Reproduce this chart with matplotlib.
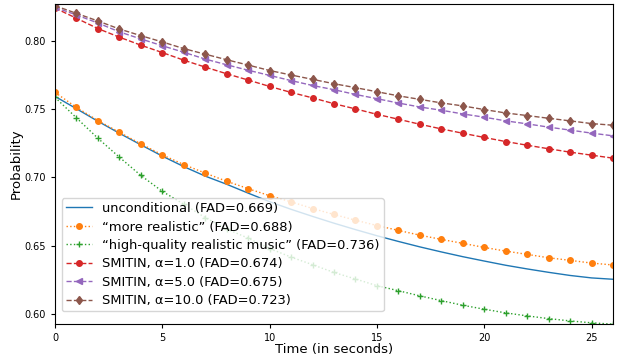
import matplotlib
matplotlib.use("Agg")
import matplotlib.pyplot as plt

t = list(range(27))

unconditional = [0.7596, 0.7505, 0.7413, 0.7325, 0.7240, 0.7157, 0.7080, 0.7010, 0.6950,
                 0.6885, 0.6822, 0.6766, 0.6714, 0.6664, 0.6617, 0.6572, 0.6530, 0.6490,
                 0.6453, 0.6418, 0.6386, 0.6355, 0.6328, 0.6303, 0.6280, 0.6262, 0.6252]
more_realistic = [0.7625, 0.7515, 0.7418, 0.7332, 0.7247, 0.7166, 0.7095, 0.7032, 0.6972,
                  0.6918, 0.6866, 0.6821, 0.6772, 0.6728, 0.6686, 0.6647, 0.6611, 0.6576,
                  0.6545, 0.6516, 0.6486, 0.6459, 0.6435, 0.6410, 0.6391, 0.6371, 0.6357]
hq_realistic = [0.7589, 0.7438, 0.7288, 0.7149, 0.7015, 0.6898, 0.6804, 0.6705, 0.6622,
                0.6554, 0.6478, 0.6415, 0.6359, 0.6302, 0.6254, 0.6205, 0.6168, 0.6130,
                0.6095, 0.6061, 0.6032, 0.6005, 0.5983, 0.5963, 0.5946, 0.5932, 0.5922]
smitin_1 = [0.8245, 0.8170, 0.8094, 0.8031, 0.7972, 0.7918, 0.7862, 0.7811, 0.7762,
            0.7716, 0.7669, 0.7625, 0.7585, 0.7542, 0.7504, 0.7464, 0.7428, 0.7391,
            0.7357, 0.7325, 0.7294, 0.7264, 0.7237, 0.7211, 0.7186, 0.7164, 0.7142]
smitin_5 = [0.8250, 0.8194, 0.8135, 0.8070, 0.8018, 0.7968, 0.7920, 0.7870, 0.7828,
            0.7788, 0.7750, 0.7712, 0.7676, 0.7645, 0.7610, 0.7579, 0.7547, 0.7518,
            0.7494, 0.7467, 0.7443, 0.7416, 0.7394, 0.7370, 0.7348, 0.7326, 0.7306]
smitin_10 = [0.8262, 0.8206, 0.8150, 0.8091, 0.8042, 0.7996, 0.7947, 0.7906, 0.7865,
             0.7826, 0.7786, 0.7753, 0.7721, 0.7689, 0.7660, 0.7630, 0.7600, 0.7574,
             0.7548, 0.7526, 0.7499, 0.7474, 0.7455, 0.7435, 0.7416, 0.7396, 0.7384]

labels = ["unconditional (FAD=0.669)",
          "\u201cmore realistic\u201d (FAD=0.688)",
          "\u201chigh-quality realistic music\u201d (FAD=0.736)",
          "SMITIN, \u03b1=1.0 (FAD=0.674)",
          "SMITIN, \u03b1=5.0 (FAD=0.675)",
          "SMITIN, \u03b1=10.0 (FAD=0.723)"]

fig = plt.figure(figsize=(6.2, 3.6), dpi=100)
ax = fig.add_axes([0.0887, 0.0995, 0.90, 0.8895])

lw = 1.0
ax.plot(t, unconditional, color="#1f77b4", lw=lw, label=labels[0])
ax.plot(t, more_realistic, color="#ff7f0e", ls=":", lw=lw, marker="o", ms=4, label=labels[1])
ax.plot(t, hq_realistic, color="#2ca02c", ls=":", lw=lw, marker="+", ms=4.5, mew=1.0, label=labels[2])
ax.plot(t, smitin_1, color="#d62728", ls="--", lw=lw, marker="o", ms=4, label=labels[3])
ax.plot(t, smitin_5, color="#9467bd", ls="--", lw=lw, marker="<", ms=4, label=labels[4])
ax.plot(t, smitin_10, color="#8c564b", ls="--", lw=lw, marker="d", ms=4.5, label=labels[5])

ax.set_xlim(0, 26)
ax.set_ylim(0.5922, 0.8275)
ax.set_xticks([0, 5, 10, 15, 20, 25])
ax.set_yticks([0.60, 0.65, 0.70, 0.75, 0.80])
ax.tick_params(labelsize=7, length=3)
ax.set_xlabel("Time (in seconds)", fontsize=9.5, labelpad=0)
ax.set_ylabel("Probability", fontsize=9.5, labelpad=1.5)

ax.legend(loc="lower left", bbox_to_anchor=(0.012, 0.04), fontsize=9.4, borderaxespad=0,
          handlelength=2.0, labelspacing=0.42, borderpad=0.3)

fig.savefig("out.png", dpi=100)
